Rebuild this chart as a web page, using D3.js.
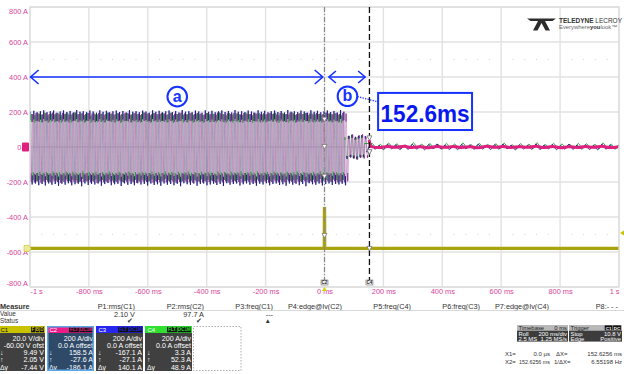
<!DOCTYPE html>
<html><head><meta charset="utf-8">
<script src="https://cdn.jsdelivr.net/npm/d3@7"></script>
<style>
html,body{margin:0;padding:0;background:#fff;}
svg{display:block;font-family:"Liberation Sans",Arial,sans-serif;}
</style></head><body>
<svg id="scope" width="624" height="374"></svg>
<script>
// ---------- axis ticks ----------
const timeTicksMs = [-1000,-800,-600,-400,-200,0,200,400,600,800,1000];
const timeTickLabels = ["-1 s","-800 ms","-600 ms","-400 ms","-200 ms","0 ms","200 ms","400 ms","600 ms","800 ms","1 s"];
const ampTicksA = [800,600,400,200,0,-200,-400,-600,-800];
const ampTickLabels = ["800 A","600 A","400 A","200 A","0 A","-200 A","-400 A","-600 A","-800 A"];

// ---------- C1 (voltage) trace ----------
const c1TimesMs = [-1000,-0.4,0,0.4,1000];
const c1Volts   = [2.05,2.05,25.7,2.05,2.05];
const triggerLevelV = 10.8;

// ---------- current traces: half-cycle peak values (A) ----------
// running section, sampled every half cycle
const c2Run = [192,-198,188,-201,195,-196,190,-203,186,-199,193,-197,189,-202,196,-195,191,-200,187,-204,
194,-198,190,-196,185,-201,192,-199,197,-203,188,-197,193,-200,189,-195,195,-202,191,-198,
186,-204,194,-196,190,-201,188,-199,196,-197,192,-203,187,-200,193,-195,189,-202,195,-198,
191,-196,186,-201,194,-204,190,-199,188,-197,196,-200,192,-195,187,-203,193,-198,189,-201,
195,-196,191,-202,186,-199,194,-197,190,-204,188,-200,196,-195,192,-198,187,-201,193,-203,
189,-196,195,-199,191,-202,186,-197,194,-200,190,-195,188,-204,196,-198,192,-201,187,-196,
193,-203,189,-199,195,-197,191,-200,186,-202,194,-195,190,-198,188,-201,196,-204,192,-196,
187,-199,193,-197,189,-203,195,-200,191,-195,186,-202,194,-198,190,-201,188,-196,196,-199,
192,-204,187,-197,193,-200,189,-195,195,-202,191,-198,186,-201,194,-196,190,-203,188,-199,
196,-197,192,-200,187,-195,193,-202,189,-198,195,-201,191,-196];
const c3Run = [202,-214,207,-209,198,-218,205,-211,210,-220,199,-208,204,-216,208,-212,196,-222,203,-210,
209,-215,200,-207,206,-219,197,-213,211,-210,202,-224,205,-208,199,-217,208,-211,203,-214,
196,-209,210,-221,201,-212,207,-206,198,-218,204,-213,209,-210,200,-223,206,-208,197,-216,
211,-212,202,-219,205,-207,199,-214,208,-211,203,-220,196,-209,210,-217,201,-213,207,-222,
198,-208,204,-215,209,-211,200,-218,206,-210,197,-224,211,-207,202,-213,205,-216,199,-209,
208,-221,203,-212,196,-208,210,-219,201,-214,207,-210,198,-217,204,-211,209,-223,200,-207,
206,-215,197,-212,211,-209,202,-220,205,-213,199,-208,208,-216,203,-211,196,-222,210,-210,
201,-214,207,-207,198,-219,204,-212,209,-209,200,-217,206,-213,197,-221,211,-208,202,-215,
205,-210,199,-218,208,-211,203,-224,196,-207,210,-213,201,-216,207,-209,198,-220,204,-212,
209,-208,200,-217,206,-211,197,-214,211,-210,202,-219];
const c4Run = [188,-190,183,-195,192,-186,185,-193,196,-188,181,-197,190,-184,186,-192,194,-189,182,-196,
189,-185,193,-194,184,-187,197,-191,187,-198,191,-183,183,-195,195,-188,180,-193,192,-186,
186,-197,190,-189,182,-194,196,-185,188,-192,184,-196,193,-187,181,-199,189,-190,195,-184,
185,-195,191,-188,187,-193,183,-186,197,-191,190,-197,182,-185,194,-194,186,-189,188,-196,
192,-183,184,-192,196,-188,181,-195,189,-186,193,-198,185,-190,187,-184,195,-193,183,-189,
191,-196,188,-185,182,-194,194,-187,186,-191,190,-197,184,-184,197,-192,189,-188,181,-195,
193,-186,185,-193,192,-189,187,-183,183,-196,196,-190,188,-187,182,-194,190,-185,194,-198,
186,-191,184,-188,191,-195,189,-184,195,-192,181,-189,193,-197,187,-186,185,-193,197,-190,
183,-185,190,-196,188,-188,194,-191,182,-194,192,-187,186,-199,189,-183,184,-192,196,-189,
191,-195,187,-186,193,-190,185,-197,181,-188];
// ramp-down section (half cycles)
const c2Ramp = [62,-58,70,-64,55,-70,66,-60,72,-66,58,-62,40];
const c3Ramp = [-68,64,-60,71,-66,58,-72,65,-61,69,-57,63,-30];
const c4Ramp = [55,-66,61,-57,68,-63,52,-69,60,-55,66,-60,20];
// stopped section (residual ripple)
const c2Stop = [2,-3,3,-2,4,-3,2,-4,3,-2,3,-3,2,-4,4,-2,3,-3,2,-2,4,-3,3,-4,2,-3,3,-2,4,-3,2];
const c3Stop = [14,-12,9,-15,16,-10,12,-14,8,-13,15,-11,10,-16,13,-9,17,-12,11,-14,9,-15,14,-10,12,-13,16,-11,8,-14,13,-12,15,-10,10,-16,12,-11,9,-13,17,-14,11,-10,14,-15,8,-12,16,-13,10,-11,13,-14,9,-16,15,-12,12,-10,11];
const c4Stop = [20,-8,15,-10,22,-6,18,-9,12,-7,24,-10,16,-5,19,-8,14,-11,21,-7,17,-9,23,-6,13,-10,20,-8,15,-5,18,-9,22,-7,12,-11,19,-6,16,-8,24,-10,14,-7,21,-9,17,-5,13,-8,20,-10,18,-6,15,-9,23,-7,16,-11,19];

// time base of each section: start ms and step ms per channel
const runStartMs  = {C2:-1002, C3:-998.3, C4:-994.5};
const runStepMs   = 5.6;
const rampStepMs  = 5.6;
const stopStartMs = {C2:158, C3:158, C4:162};
const stopStepMs  = {C2:28, C3:14, C4:14};

// ---------- cursors ----------
const cursorMs = [0, 152.6256];
const cursorC1V = [9.49, 2.05];
const cursorAmps = {C2:[158.5,-27.6], C3:[-167.1,-27.1], C4:[3.3,52.3]};

// ---------- annotations ----------
const spanA_ms = [-998, -6];
const spanB_ms = [15, 138];
const spanLevelA = 400;
const durationLabel = "152.6ms";

// ---------- measurement panel ----------
const measureHeaders = ["P1:rms(C1)","P2:rms(C2)","P3:freq(C1)","P4:edge@lv(C2)","P5:freq(C4)","P6:freq(C3)","P7:edge@lv(C4)","P8:- - -"];
const measureValues  = ["2.10 V","97.7 A","---","","","","",""];
const measureStatus  = ["✔","✔","▲","","","","",""];
const channelNames   = ["C1","C2","C3","C4"];
const channelBadges  = [["F","B","D"],["FLT","DC1M"],["FLT","DC1M"],["FLT","DC1M"]];
const channelScale   = ["20.0 V/div","200 A/div","200 A/div","200 A/div"];
const channelOffset  = ["-60.00 V ofst","0.0 A offset","0.0 A offset","0.0 A offset"];
const channelY1      = ["9.49 V","158.5 A","-167.1 A","3.3 A"];
const channelY2      = ["2.05 V","-27.6 A","-27.1 A","52.3 A"];
const channelDY      = ["-7.44 V","-186.1 A","140.1 A","48.9 A"];

const colors   = {C1:"#aaa310", C2:"#c84a9c", C3:"#3e3ea6", C4:"#3a9c48"};
const lineAlpha = {C2:0.7, C3:0.6, C4:0.5};
const peakCols = {C2:"#7e2a86", C3:"#16167a", C4:"#1d9a2c"};
const headColors = ["#c9c200","#ee1a88","#2626ee","#30e030"];
const tickPink = "#d8449a";

// ================= drawing =================
const svg = d3.select("#scope");
const plot = {left:30, right:619, top:7, bottom:287};
const x = d3.scaleLinear().domain([-1000,1000]).range([plot.left, plot.right]);
const y = d3.scaleLinear().domain([-800,800]).range([plot.bottom, plot.top]);
// C1: 20 V/div with -60 V offset on the same 8-division screen
const yC1 = d3.scaleLinear().domain([-20,140]).range([plot.bottom, plot.top]);

svg.append("defs").append("clipPath").attr("id","plotClip")
  .append("rect").attr("x",plot.left).attr("y",plot.top)
  .attr("width",plot.right-plot.left).attr("height",plot.bottom-plot.top);

// grid
const grid = svg.append("g");
grid.selectAll(".gv").data(timeTicksMs).join("line")
  .attr("x1",d=>x(d)).attr("x2",d=>x(d)).attr("y1",plot.top).attr("y2",plot.bottom)
  .attr("stroke","#e2e2e2").attr("stroke-width",1.4);
grid.selectAll(".gh").data(ampTicksA).join("line")
  .attr("x1",plot.left).attr("x2",plot.right).attr("y1",d=>y(d)).attr("y2",d=>y(d))
  .attr("stroke","#e2e2e2").attr("stroke-width",1.4);
// minor tick dots at +/- 2.5 div
const minorMs = d3.range(-1000,1001,40).filter(t=>t%200!==0);
[500,-500].forEach(a=>{
  grid.selectAll(null).data(minorMs).join("rect")
    .attr("x",d=>x(d)-0.5).attr("y",y(a)-0.5).attr("width",1).attr("height",1).attr("fill","#d4d4d4");
});

// axes
const xAxis = d3.axisBottom(x).tickValues(timeTicksMs).tickFormat((d,i)=>timeTickLabels[i]).tickSize(0).tickPadding(0);
const gx = svg.append("g").attr("transform",`translate(0,${plot.bottom+2})`).call(xAxis);
gx.select(".domain").remove();
gx.selectAll("text").attr("fill",tickPink).attr("font-size",7.4).attr("font-family","Liberation Sans, Arial, sans-serif")
  .attr("text-anchor",(d,i)=> i===0?"start":(i===timeTicksMs.length-1?"end":"middle"));

const yAxis = d3.axisLeft(y).tickValues(ampTicksA).tickFormat((d,i)=>ampTickLabels[i]).tickSize(0).tickPadding(2);
const gy = svg.append("g").attr("transform",`translate(${plot.left},0)`).call(yAxis);
gy.select(".domain").remove();
gy.selectAll("text").attr("fill",tickPink).attr("font-size",7.4).attr("font-family","Liberation Sans, Arial, sans-serif")
  .attr("transform",d=> d===800?"translate(0,4)":(d===-800?"translate(0,-4)":null));

// traces
const traces = svg.append("g").attr("clip-path","url(#plotClip)");
const line = d3.line().x(d=>x(d[0])).y(d=>y(d[1])).curve(d3.curveMonotoneX);

// C1
traces.append("path")
  .datum(c1TimesMs.map((t,i)=>[t,c1Volts[i]]))
  .attr("d", d3.line().x(d=>x(d[0])).y(d=>yC1(d[1])))
  .attr("fill","none").attr("stroke",colors.C1).attr("stroke-width",3.4);

function sectionPoints(values,start,step){ return values.map((v,i)=>[start+i*step, v]); }
const chan = [
  {id:"C4", run:c4Run, ramp:c4Ramp, stop:c4Stop},
  {id:"C3", run:c3Run, ramp:c3Ramp, stop:c3Stop},
  {id:"C2", run:c2Run, ramp:c2Ramp, stop:c2Stop}
];
const built = chan.map(c=>{
  const runPts  = sectionPoints(c.run, runStartMs[c.id], runStepMs);
  const rampStart = runPts[runPts.length-1][0] + rampStepMs;
  const rampPts = sectionPoints(c.ramp, rampStart, rampStepMs);
  const stopPts = sectionPoints(c.stop, stopStartMs[c.id], stopStepMs[c.id]);
  return {id:c.id, osc:runPts.concat(rampPts), stop:[rampPts[rampPts.length-1]].concat(stopPts)};
});
// swing lines (persistence look)
built.forEach(c=>{
  traces.append("path").datum(c.osc)
    .attr("d",line).attr("fill","none").attr("stroke",colors[c.id])
    .attr("stroke-width",0.65).attr("stroke-opacity",lineAlpha[c.id]);
});
// dwell near each peak shows up denser
built.forEach(c=>{
  traces.append("g").selectAll("line").data(c.osc).join("line")
    .attr("x1",d=>x(d[0])).attr("x2",d=>x(d[0]))
    .attr("y1",d=>y(d[1])).attr("y2",d=>y(d[1]*0.76))
    .attr("stroke",peakCols[c.id]).attr("stroke-width",1.1).attr("stroke-opacity",0.9);
});
built.forEach(c=>{
  traces.append("path").datum(c.stop)
    .attr("d",line).attr("fill","none").attr("stroke", c.id==="C2"?"#e0207e":peakCols[c.id])
    .attr("stroke-width", c.id==="C2"?3:0.9);
});

// plot frame
svg.append("rect").attr("x",plot.left).attr("y",plot.top)
  .attr("width",plot.right-plot.left).attr("height",plot.bottom-plot.top)
  .attr("fill","none").attr("stroke","#dcdcdc").attr("stroke-width",1.2);

// cursors
const cur = svg.append("g");
cur.append("line").attr("x1",x(cursorMs[0])).attr("x2",x(cursorMs[0])).attr("y1",plot.top).attr("y2",plot.bottom)
  .attr("stroke","#8a8a8a").attr("stroke-width",1.2).attr("stroke-dasharray","5,2,1,2");
cur.append("line").attr("x1",x(cursorMs[1])).attr("x2",x(cursorMs[1])).attr("y1",plot.top).attr("y2",plot.bottom-4)
  .attr("stroke","#111").attr("stroke-width",1.3).attr("stroke-dasharray","6,3");
cursorMs.forEach((t,k)=>{
  const ys = [yC1(cursorC1V[k]), y(cursorAmps.C2[k]), y(cursorAmps.C3[k]), y(cursorAmps.C4[k])];
  ys.forEach(yy=>{
    cur.append("path").attr("d",`M${x(t)-2.5},${yy-2} L${x(t)+2.5},${yy-2} L${x(t)},${yy+2.5} Z`)
      .attr("fill","#fff").attr("stroke","#777").attr("stroke-width",0.8);
  });
  cur.append("rect").attr("x",x(t)-3.5).attr("y",plot.bottom-7).attr("width",7).attr("height",5)
    .attr("fill","#f2f2f2").attr("stroke","#555").attr("stroke-width",0.5);
  cur.append("text").attr("x",x(t)).attr("y",plot.bottom-3).attr("text-anchor","middle")
    .attr("font-size",4.5).attr("fill","#222").attr("font-weight","bold").text(k===0?"C2":"C4");
});
// trigger position and level markers
svg.append("path").attr("d",`M${x(0)},${plot.bottom} l-2.5,4 h5 Z`).attr("fill","#d8d000");
svg.append("path").attr("d",`M${plot.right+1},${yC1(triggerLevelV)} l4,-2.5 v5 Z`).attr("fill","#c8c000");
// channel ground markers
svg.append("rect").attr("x",22).attr("y",y(0)-4.5).attr("width",7).attr("height",9).attr("rx",1).attr("fill","#e0207e");
svg.append("path").attr("d",`M24,${yC1(c1Volts[0])-3} h5 l2,3 l-2,3 h-5 Z`).attr("fill","#eeeaa0").attr("stroke","#c8c000").attr("stroke-width",0.6);

// annotations
const blue = "#1532ff";
const ann = svg.append("g").attr("fill","none").attr("stroke",blue).attr("stroke-width",1.6);
function dblArrow(x1,x2,yy,len,half){
  ann.append("line").attr("x1",x1).attr("x2",x2).attr("y1",yy).attr("y2",yy);
  ann.append("path").attr("d",`M${x1+len},${yy-half} L${x1},${yy} L${x1+len},${yy+half}`);
  ann.append("path").attr("d",`M${x2-len},${yy-half} L${x2},${yy} L${x2-len},${yy+half}`);
}
dblArrow(x(spanA_ms[0]), x(spanA_ms[1]), y(spanLevelA), 8, 7);
dblArrow(x(spanB_ms[0]), x(spanB_ms[1]), y(spanLevelA), 7, 6);
const labelPos = [[-500,288,"a"],[78,290,"b"]];
labelPos.forEach(([t,a,s])=>{
  ann.append("circle").attr("cx",x(t)).attr("cy",y(a)).attr("r",9.8).attr("stroke-width",2);
  svg.append("text").attr("x",x(t)).attr("y",y(a)+5).attr("text-anchor","middle")
    .attr("font-size",16).attr("font-weight","bold").attr("fill",blue).text(s);
});
const boxMs = [182, 501], boxA = [309, 97];
ann.append("path").attr("d",`M${x(78)+10},${y(288)} L${x(boxMs[0])},${y(258)}`)
  .attr("stroke-width",1.3).attr("stroke-dasharray","1.3,1.3");
ann.append("rect").attr("x",x(boxMs[0])).attr("y",y(boxA[0]))
  .attr("width",x(boxMs[1])-x(boxMs[0])).attr("height",y(boxA[1])-y(boxA[0]))
  .attr("fill","#fff").attr("stroke-width",2);
svg.append("text").attr("x",(x(boxMs[0])+x(boxMs[1]))/2).attr("y",y(boxA[1])-8)
  .attr("text-anchor","middle").attr("font-size",24.5).attr("font-weight","bold").attr("fill","#0a18f0")
  .attr("textLength",89).attr("lengthAdjust","spacingAndGlyphs").text(durationLabel);

// brand mark
const logo = svg.append("g");
logo.append("path").attr("d","M527,18.5 L556,18.5 L552.5,21 L545,21 L550,30.5 L545.5,30.5 L541.5,23 L537.5,30.5 L533,30.5 L538,21 L530.5,21 Z").attr("fill","#2c2c2c");
logo.append("text").attr("x",559).attr("y",23).attr("font-size",6.8).attr("fill","#333")
  .attr("textLength",63).attr("lengthAdjust","spacingAndGlyphs")
  .call(t=>{ t.append("tspan").attr("font-weight","bold").text("TELEDYNE"); t.append("tspan").text(" LECROY"); });
logo.append("text").attr("x",559).attr("y",29).attr("font-size",6).attr("fill","#666")
  .attr("textLength",58).attr("lengthAdjust","spacingAndGlyphs")
  .call(t=>{ t.append("tspan").text("Everywhere"); t.append("tspan").attr("font-weight","bold").attr("fill","#333").text("you"); t.append("tspan").text("look™"); });

// measurement table
const panel = svg.append("g").attr("font-size",7.3).attr("fill","#333");
panel.append("text").attr("x",0).attr("y",308.5).attr("font-weight","bold").text("Measure");
panel.append("text").attr("x",0).attr("y",316).attr("font-size",6.4).text("Value");
panel.append("text").attr("x",0).attr("y",323).attr("font-size",6.4).text("Status");
svg.append("line").attr("x1",0).attr("x2",624).attr("y1",310.5).attr("y2",310.5).attr("stroke","#cfcfcf").attr("stroke-width",0.8);
measureHeaders.forEach((h,i)=>{
  const rx = 135 + i*69;
  panel.append("text").attr("x",Math.min(rx,624)).attr("y",308.5).attr("text-anchor","end").text(h);
  if (measureValues[i]) panel.append("text").attr("x",rx).attr("y",316.5).attr("text-anchor","end").text(measureValues[i]);
  if (measureStatus[i]) panel.append("text").attr("x",rx-2).attr("y",323).attr("text-anchor","end")
      .attr("font-size",6.5).text(measureStatus[i]);
});

// channel descriptor boxes
const boxX = [-2,47,96,145], boxW = 47;
channelNames.forEach((name,i)=>{
  const g = svg.append("g").attr("transform",`translate(${boxX[i]},326)`);
  g.append("rect").attr("width",boxW).attr("height",45).attr("fill", i===1?"#2e4a68":"#404040");
  g.append("rect").attr("width",boxW).attr("height",7).attr("fill",headColors[i]);
  g.append("text").attr("x",2.5).attr("y",6).attr("font-size",6).attr("fill", i===0?"#111":"#fff").text(name);
  let bx = boxW-0.5;
  channelBadges[i].slice().reverse().forEach(b=>{
    const w = b.length*3.1+1.4;
    bx -= w;
    g.append("rect").attr("x",bx).attr("y",0.9).attr("width",w-0.5).attr("height",5.4).attr("fill","#111");
    g.append("text").attr("x",bx+(w-0.5)/2).attr("y",5.4).attr("text-anchor","middle")
      .attr("font-size",4.6).attr("font-weight","bold").attr("fill",headColors[i]).text(b);
  });
  const rows = [channelScale[i],channelOffset[i],channelY1[i],channelY2[i],channelDY[i]];
  const sym = ["","","↓","↑","Δy"];
  rows.forEach((r,k)=>{
    const by = 14.5 + k*7.3;
    g.append("text").attr("x",boxW-1).attr("y",by).attr("text-anchor","end").attr("font-size",7.1).attr("fill","#fff").text(r);
    if (sym[k]) g.append("text").attr("x",2).attr("y",by).attr("font-size",6.8).attr("fill","#fff").text(sym[k]);
  });
  if (i===1) g.append("rect").attr("x",0.75).attr("y",0.75).attr("width",boxW-1.5).attr("height",43.5)
      .attr("fill","none").attr("stroke","#5aa6e6").attr("stroke-width",1.5);
});
svg.append("rect").attr("x",193.5).attr("y",326.5).attr("width",47.5).attr("height",44)
  .attr("fill","none").attr("stroke","#9a9a9a").attr("stroke-width",0.8).attr("stroke-dasharray","1.5,1.5");

// timebase / trigger summary
function infoBox(x0,w,head,headRight,r1,r2,badges){
  const g = svg.append("g").attr("transform",`translate(${x0},325)`).attr("font-size",5.9);
  g.append("rect").attr("width",w).attr("height",5.6).attr("fill","#b8b8b8");
  g.append("rect").attr("y",5.6).attr("width",w).attr("height",11).attr("fill","#3c3c3c");
  g.append("text").attr("x",1.5).attr("y",5).attr("fill","#222").text(head);
  if (headRight) g.append("text").attr("x",w-1).attr("y",5).attr("text-anchor","end").attr("fill","#222").text(headRight);
  if (badges){
    let bx = w-0.5;
    badges.slice().reverse().forEach(b=>{
      const bw = b.length*3.4+1.6; bx -= bw;
      g.append("rect").attr("x",bx).attr("y",0.4).attr("width",bw-0.6).attr("height",5).attr("fill","#111");
      g.append("text").attr("x",bx+(bw-0.6)/2).attr("y",4.5).attr("text-anchor","middle").attr("font-size",4.4)
        .attr("font-weight","bold").attr("fill","#fff").text(b);
    });
  }
  [[r1,10.6],[r2,16]].forEach(([r,by])=>{
    g.append("text").attr("x",1.5).attr("y",by).attr("fill","#fff").text(r[0]);
    g.append("text").attr("x",w-1).attr("y",by).attr("text-anchor","end").attr("fill","#fff").text(r[1]);
  });
}
infoBox(517,51,"Timebase","0 ms",["Roll","200 ms/div"],["2.5 MS","1.25 MS/s"],null);
infoBox(569,53,"Trigger",null,["Stop","10.8 V"],["Edge","Positive"],["C1","DC"]);

const cx = svg.append("g").attr("font-size",6).attr("fill","#333");
cx.append("text").attr("x",505).attr("y",356).text("X1=");
cx.append("text").attr("x",550).attr("y",356).attr("text-anchor","end").text("0.0 µs");
cx.append("text").attr("x",556).attr("y",356).text("ΔX=");
cx.append("text").attr("x",622).attr("y",356).attr("text-anchor","end").text("152.6256 ms");
cx.append("text").attr("x",505).attr("y",364).text("X2=");
cx.append("text").attr("x",550).attr("y",364).attr("text-anchor","end")
  .attr("textLength",31).attr("lengthAdjust","spacingAndGlyphs").text("152.6256 ms");
cx.append("text").attr("x",554).attr("y",364).text("1/ΔX=");
cx.append("text").attr("x",622).attr("y",364).attr("text-anchor","end").text("6.55198 Hz");
</script>
</body></html>
